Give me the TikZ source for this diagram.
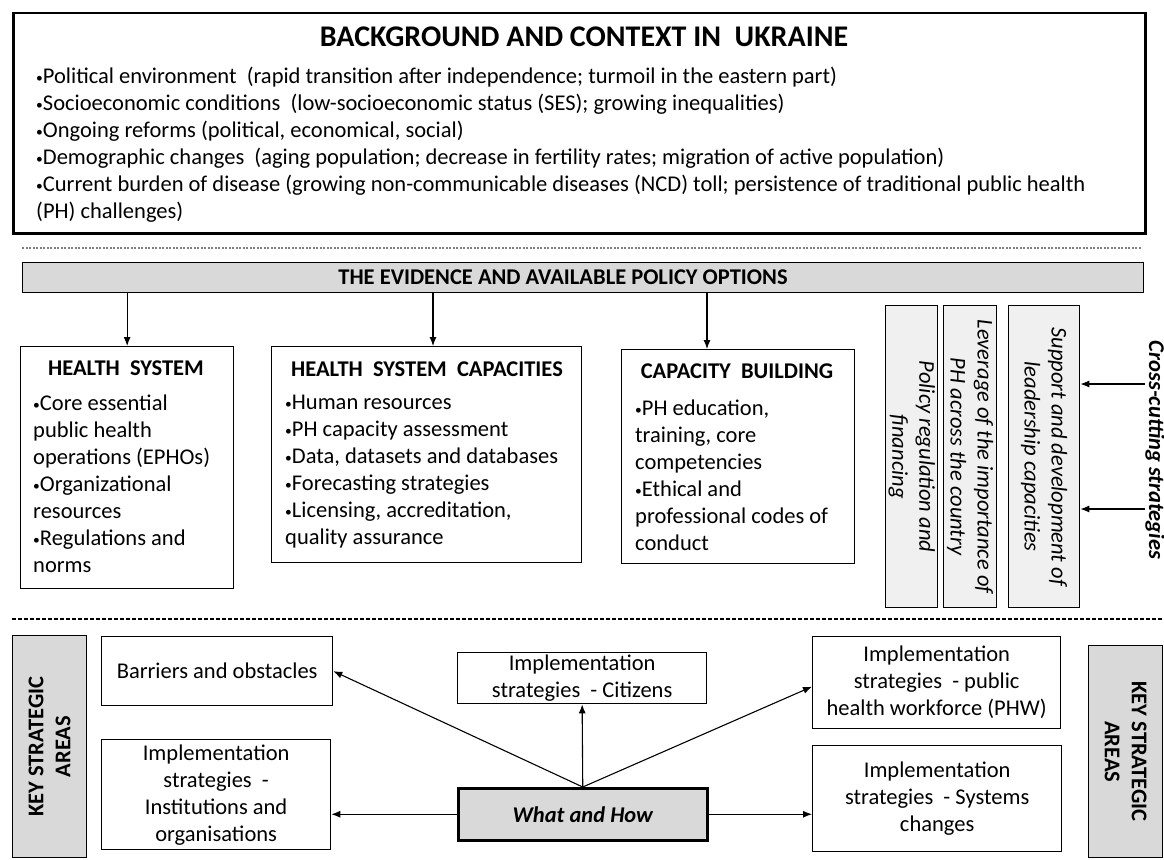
\documentclass[tikz,border=0pt]{standalone}
\usepackage{graphicx}
\usepackage{fontspec}
\setmainfont{Carlito}
\usetikzlibrary{positioning,calc,arrows.meta}
\definecolor{barGray}{HTML}{D9D9D9}
\definecolor{paleGray}{HTML}{F0F0F0}
\newcommand{\blt}{\raisebox{0.06em}{\scalebox{0.6}{•}}}
\tikzset{
	every picture/.style={>={Latex[length=9pt,width=7pt]}},
	plainbox/.style={draw,line width=1.3pt,anchor=north west,inner sep=0pt},
	bodytext/.style={font=\fontsize{22.5}{27}\selectfont,inner sep=0pt},
	titletext/.style={font=\fontsize{22.5}{27}\selectfont\bfseries,inner sep=0pt},
	rottext/.style={bodytext,font=\fontsize{22.5}{27}\selectfont\itshape,align=center},
	keytext/.style={titletext,align=center}
}

\begin{document}
\begin{tikzpicture}[x=1pt,y=-1pt]
	\useasboundingbox (0,0) rectangle (1164,859);
	% background and context
	\node[plainbox,line width=2.5pt,minimum width=1132pt,minimum height=220pt] (bg) at (12,12) {};
	\node[font=\fontsize{30}{34}\selectfont\bfseries,inner sep=0pt] (bgTitle) at (584,37) {BACKGROUND AND CONTEXT IN\ \ UKRAINE};
	\node[bodytext,anchor=north west,align=left] (bgText) at (36,67) {%
		\blt Political environment\ \ (rapid transition after independence; turmoil in the eastern part)\\
		\blt Socioeconomic conditions\ \ (low-socioeconomic status (SES); growing inequalities)\\
		\blt Ongoing reforms (political, economical, social)\\
		\blt Demographic changes\ \ (aging population; decrease in fertility rates; migration of active population)\\
		\blt Current burden of disease (growing non-communicable diseases (NCD) toll; persistence of traditional public health\\
		(PH) challenges)};
	\draw[gray,line width=1.5pt,dash pattern=on 2pt off 1.5pt] (22,248) -- (1142,248);
	
	% evidence
	\node[plainbox,fill=barGray,minimum width=1121pt,minimum height=30pt] (evid) at (22,262) {};
	\node[titletext] (evidTitle) at (563,277) {THE EVIDENCE AND AVAILABLE POLICY OPTIONS};
	
	\node[plainbox,minimum width=213pt,minimum height=242pt] (hs) at (20,346) {};
	\node[titletext] (hsTitle) at (126,368) {HEALTH\ \ SYSTEM};
	\node[bodytext,anchor=north west,align=left] (hsText) at (33,395) {%
		\blt Core essential\\public health\\operations (EPHOs)\\\blt Organizational\\resources\\\blt Regulations and\\norms};
	
	\node[plainbox,minimum width=310pt,minimum height=216pt] (hsc) at (271,346) {};
	\node[titletext] (hscTitle) at (427,369) {HEALTH\ \ SYSTEM\ \ CAPACITIES};
	\node[bodytext,anchor=north west,align=left] (hscText) at (285,395) {%
		\blt Human resources\\\blt PH capacity assessment\\\blt Data, datasets and databases\\\blt Forecasting strategies\\\blt Licensing, accreditation,\\quality assurance};
	
	\node[plainbox,minimum width=233pt,minimum height=214pt] (cb) at (621,349) {};
	\node[titletext] (cbTitle) at (737,371) {CAPACITY\ \ BUILDING};
	\node[bodytext,anchor=north west,align=left] (cbText) at (635,400) {%
		\blt PH education,\\training, core\\competencies\\\blt Ethical and\\professional codes of\\conduct};
	
	\coordinate (hscIn) at (433,346);
	\coordinate (cbIn) at (707,349);
	\draw[->,line width=1.1pt] (evid.south -| hs.north) -- (hs.north);
	\draw[->,line width=1.1pt] (evid.south -| hscIn) -- (hscIn);
	\draw[->,line width=1.1pt] (evid.south -| cbIn) -- (cbIn);
	
	% cross-cutting strategies
	\node[plainbox,fill=paleGray,minimum width=52pt,minimum height=302pt] (policy) at (885,305) {};
	\node[plainbox,fill=paleGray,minimum width=53pt,minimum height=302pt] (lever) at (943,305) {};
	\node[plainbox,fill=paleGray,minimum width=71pt,minimum height=302pt] (support) at (1008,305) {};
	\node[rottext,rotate=-90] at (policy.center) {Policy regulation and\\financing};
	\node[rottext,rotate=-90] at (lever.center) {Leverage of the importance of\\PH across the country};
	\node[rottext,rotate=-90] at (support.center) {Support and development of\\leadership capacities};
	\node[font=\fontsize{22.5}{27}\selectfont\bfseries\itshape,inner sep=0pt,rotate=-90] (cross) at (1155,450) {Cross-cutting strategies};
	\draw[->,line width=1.1pt] (cross.south |- 0,384) -- (support.east |- 0,384);
	\draw[->,line width=1.1pt] (cross.south |- 0,509) -- (support.east |- 0,509);
	
	\draw[line width=2pt,dash pattern=on 4pt off 2pt] (12,619) -- (1164,619);
	
	% key strategic areas
	\node[plainbox,fill=barGray,minimum width=74pt,minimum height=222pt] (ksaL) at (12,635) {};
	\node[keytext,rotate=90] at (ksaL.center) {KEY STRATEGIC\\AREAS};
	\node[plainbox,fill=barGray,minimum width=74pt,minimum height=212pt] (ksaR) at (1088,645) {};
	\node[keytext,rotate=-90] at (ksaR.center) {KEY STRATEGIC\\AREAS};
	
	\node[plainbox,bodytext,align=center,minimum width=231pt,minimum height=69pt] (barr) at (101,636) {Barriers and obstacles};
	\node[plainbox,bodytext,align=center,minimum width=229pt,minimum height=110pt] (inst) at (101,739) {Implementation\\strategies\ \ -\\Institutions and\\organisations};
	\node[plainbox,bodytext,align=center,minimum width=249pt,minimum height=51pt] (citz) at (457,652) {Implementation\\strategies\ \ - Citizens};
	\node[plainbox,line width=2.5pt,fill=barGray,font=\fontsize{22.5}{27}\selectfont\bfseries\itshape,minimum width=249pt,minimum height=52pt] (wh) at (457,787) {What and How};
	\node[plainbox,bodytext,align=center,minimum width=248pt,minimum height=92pt] (phw) at (812,636) {Implementation\\strategies\ \ - public\\health workforce (PHW)};
	\node[plainbox,bodytext,align=center,minimum width=249pt,minimum height=106pt] (sys) at (812,745) {Implementation\\strategies\ \ - Systems\\changes};
	
	\draw[->,line width=1.1pt] (wh.north) -- (barr.east);
	\draw[->,line width=1.1pt] (wh.north) -- (citz.south);
	\draw[->,line width=1.1pt] (wh.north) -- ($(phw.west)+(0,4)$);
	\draw[->,line width=1.1pt] (wh.west) -- (wh.west -| inst.east);
	\draw[->,line width=1.1pt] (wh.east) -- (wh.east -| sys.west);
\end{tikzpicture}
\end{document}
